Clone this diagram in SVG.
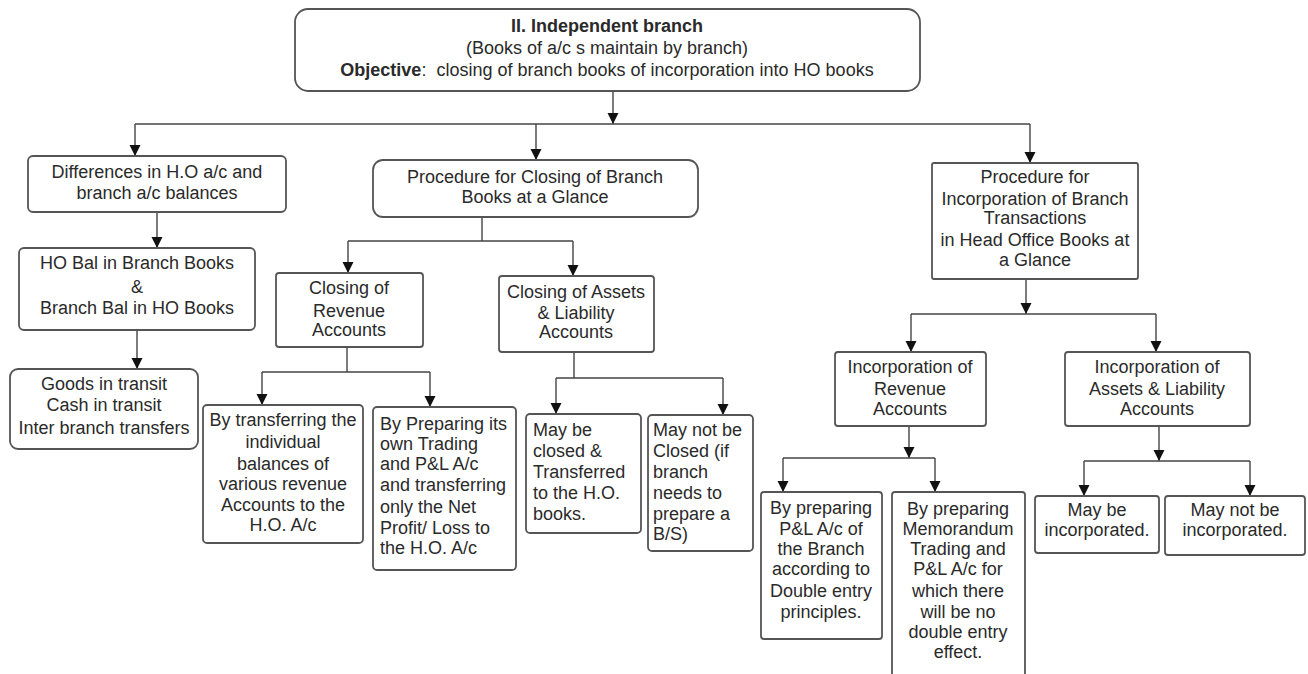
<svg xmlns="http://www.w3.org/2000/svg" width="1308" height="674" viewBox="0 0 1308 674">
<defs>
<marker id="ah" markerUnits="userSpaceOnUse" markerWidth="11" markerHeight="12" viewBox="0 0 10 10" refX="10" refY="5" orient="auto">
<path d="M0,0 L10,5 L0,10 z" fill="#111"/>
</marker>
<style>
.box{fill:#fff;stroke:#555;stroke-width:1.8}
.t{font-family:"Liberation Sans",Arial,sans-serif;font-size:18px;fill:#2a2a2a;text-anchor:middle}
.l{text-anchor:start}
.b{font-weight:bold}
.c{fill:none;stroke:#444;stroke-width:1.4}
.a{fill:none;stroke:#444;stroke-width:1.4;marker-end:url(#ah)}
</style>
</defs>
<rect width="1308" height="674" fill="#fff"/>

<g id="connectors">
<path class="a" d="M613,91 V124"/>
<path class="c" d="M135,124 H1030"/>
<path class="a" d="M135,124 V156"/>
<path class="a" d="M536,124 V160"/>
<path class="a" d="M1030,124 V163"/>
<path class="a" d="M157,212 V248"/>
<path class="a" d="M137,330 V369"/>
<path class="c" d="M482,217 V241 M348,241 H573"/>
<path class="a" d="M348,241 V273"/>
<path class="a" d="M573,241 V276"/>
<path class="c" d="M347,347 V372 M262,372 H430"/>
<path class="a" d="M262,372 V405"/>
<path class="a" d="M430,372 V407"/>
<path class="c" d="M574,352 V378 M556,378 H723"/>
<path class="a" d="M556,378 V414"/>
<path class="a" d="M723,378 V415"/>
<path class="a" d="M1026,279 V314"/>
<path class="c" d="M911,314 H1156"/>
<path class="a" d="M911,314 V352"/>
<path class="a" d="M1156,314 V352"/>
<path class="a" d="M909,426 V458"/>
<path class="c" d="M783,458 H935"/>
<path class="a" d="M783,458 V492"/>
<path class="a" d="M935,458 V492"/>
<path class="a" d="M1159,426 V461"/>
<path class="c" d="M1084,461 H1250"/>
<path class="a" d="M1084,461 V496"/>
<path class="a" d="M1250,461 V496"/>
</g>

<g id="title">
<rect class="box" x="295" y="9" width="625" height="82" rx="13"/>
<text class="t b" x="607" y="32">II. Independent branch</text>
<text class="t" x="607" y="54">(Books of a/c s maintain by branch)</text>
<text class="t" x="607" y="76"><tspan class="b">Objective</tspan>:&#160; closing of branch books of incorporation into HO books</text>
</g>

<g id="differences">
<rect class="box" x="28" y="156" width="258" height="56" rx="5"/>
<text class="t" x="157" y="178">Differences in H.O a/c and</text>
<text class="t" x="157" y="199">branch a/c balances</text>
</g>

<g id="hobal">
<rect class="box" x="19" y="248" width="236" height="82" rx="5"/>
<text class="t" x="137" y="269">HO Bal in Branch Books</text>
<text class="t" x="137" y="293">&amp;</text>
<text class="t" x="137" y="314">Branch Bal in HO Books</text>
</g>

<g id="goods">
<rect class="box" x="10" y="369" width="188" height="80" rx="8"/>
<text class="t" x="104" y="390">Goods in transit</text>
<text class="t" x="104" y="411">Cash in transit</text>
<text class="t" x="104" y="434">Inter branch transfers</text>
</g>

<g id="proc-closing">
<rect class="box" x="373" y="160" width="325" height="57" rx="10"/>
<text class="t" x="535" y="183">Procedure for Closing of Branch</text>
<text class="t" x="535" y="203">Books at a Glance</text>
</g>

<g id="closing-revenue">
<rect class="box" x="276" y="273" width="147" height="74" rx="3"/>
<text class="t" x="349" y="294">Closing of</text>
<text class="t" x="349" y="317">Revenue</text>
<text class="t" x="349" y="336">Accounts</text>
</g>

<g id="closing-assets">
<rect class="box" x="499" y="276" width="155" height="76" rx="3"/>
<text class="t" x="576" y="298">Closing of Assets</text>
<text class="t" x="576" y="319">&amp; Liability</text>
<text class="t" x="576" y="338">Accounts</text>
</g>

<g id="by-transferring">
<rect class="box" x="203" y="405" width="160" height="138" rx="4"/>
<text class="t" x="283" y="426">By transferring the</text>
<text class="t" x="283" y="448">individual</text>
<text class="t" x="283" y="470">balances of</text>
<text class="t" x="283" y="490">various revenue</text>
<text class="t" x="283" y="511">Accounts to the</text>
<text class="t" x="283" y="531">H.O. A/c</text>
</g>

<g id="by-preparing-own">
<rect class="box" x="373" y="407" width="143" height="163" rx="4"/>
<text class="t l" x="380" y="430">By Preparing its</text>
<text class="t l" x="380" y="450">own Trading</text>
<text class="t l" x="380" y="470">and P&amp;L A/c</text>
<text class="t l" x="380" y="491">and transferring</text>
<text class="t l" x="380" y="513">only the Net</text>
<text class="t l" x="380" y="534">Profit/ Loss to</text>
<text class="t l" x="380" y="554">the H.O. A/c</text>
</g>

<g id="may-be-closed">
<rect class="box" x="526" y="414" width="115" height="119" rx="4"/>
<text class="t l" x="533" y="436">May be</text>
<text class="t l" x="533" y="457">closed &amp;</text>
<text class="t l" x="533" y="478">Transferred</text>
<text class="t l" x="533" y="499">to the H.O.</text>
<text class="t l" x="533" y="520">books.</text>
</g>

<g id="may-not-be-closed">
<rect class="box" x="648" y="415" width="105" height="136" rx="4"/>
<text class="t l" x="653" y="436">May not be</text>
<text class="t l" x="653" y="457">Closed (if</text>
<text class="t l" x="653" y="478">branch</text>
<text class="t l" x="653" y="499">needs to</text>
<text class="t l" x="653" y="520">prepare a</text>
<text class="t l" x="653" y="540">B/S)</text>
</g>

<g id="proc-incorporation">
<rect class="box" x="932" y="163" width="206" height="116" rx="2"/>
<text class="t" x="1035" y="183">Procedure for</text>
<text class="t" x="1035" y="205">Incorporation of Branch</text>
<text class="t" x="1035" y="224">Transactions</text>
<text class="t" x="1035" y="246">in Head Office Books at</text>
<text class="t" x="1035" y="266">a Glance</text>
</g>

<g id="inc-revenue">
<rect class="box" x="835" y="352" width="151" height="74" rx="3"/>
<text class="t" x="910" y="373">Incorporation of</text>
<text class="t" x="910" y="395">Revenue</text>
<text class="t" x="910" y="415">Accounts</text>
</g>

<g id="inc-assets">
<rect class="box" x="1065" y="352" width="185" height="74" rx="3"/>
<text class="t" x="1157" y="373">Incorporation of</text>
<text class="t" x="1157" y="395">Assets &amp; Liability</text>
<text class="t" x="1157" y="415">Accounts</text>
</g>

<g id="by-preparing-pl">
<rect class="box" x="761" y="492" width="121" height="147" rx="3"/>
<text class="t" x="821" y="514">By preparing</text>
<text class="t" x="821" y="535">P&amp;L A/c of</text>
<text class="t" x="821" y="555">the Branch</text>
<text class="t" x="821" y="575">according to</text>
<text class="t" x="821" y="597">Double entry</text>
<text class="t" x="821" y="618">principles.</text>
</g>

<g id="by-preparing-memo">
<rect class="box" x="892" y="492" width="133" height="192" rx="3"/>
<text class="t" x="958" y="515">By preparing</text>
<text class="t" x="958" y="535">Memorandum</text>
<text class="t" x="958" y="555">Trading and</text>
<text class="t" x="958" y="575">P&amp;L A/c for</text>
<text class="t" x="958" y="597">which there</text>
<text class="t" x="958" y="618">will be no</text>
<text class="t" x="958" y="638">double entry</text>
<text class="t" x="958" y="658">effect.</text>
</g>

<g id="may-be-inc">
<rect class="box" x="1035" y="496" width="124" height="57" rx="3"/>
<text class="t" x="1097" y="516">May be</text>
<text class="t" x="1097" y="536">incorporated.</text>
</g>

<g id="may-not-be-inc">
<rect class="box" x="1165" y="496" width="140" height="59" rx="3"/>
<text class="t" x="1235" y="516">May not be</text>
<text class="t" x="1235" y="536">incorporated.</text>
</g>
</svg>
